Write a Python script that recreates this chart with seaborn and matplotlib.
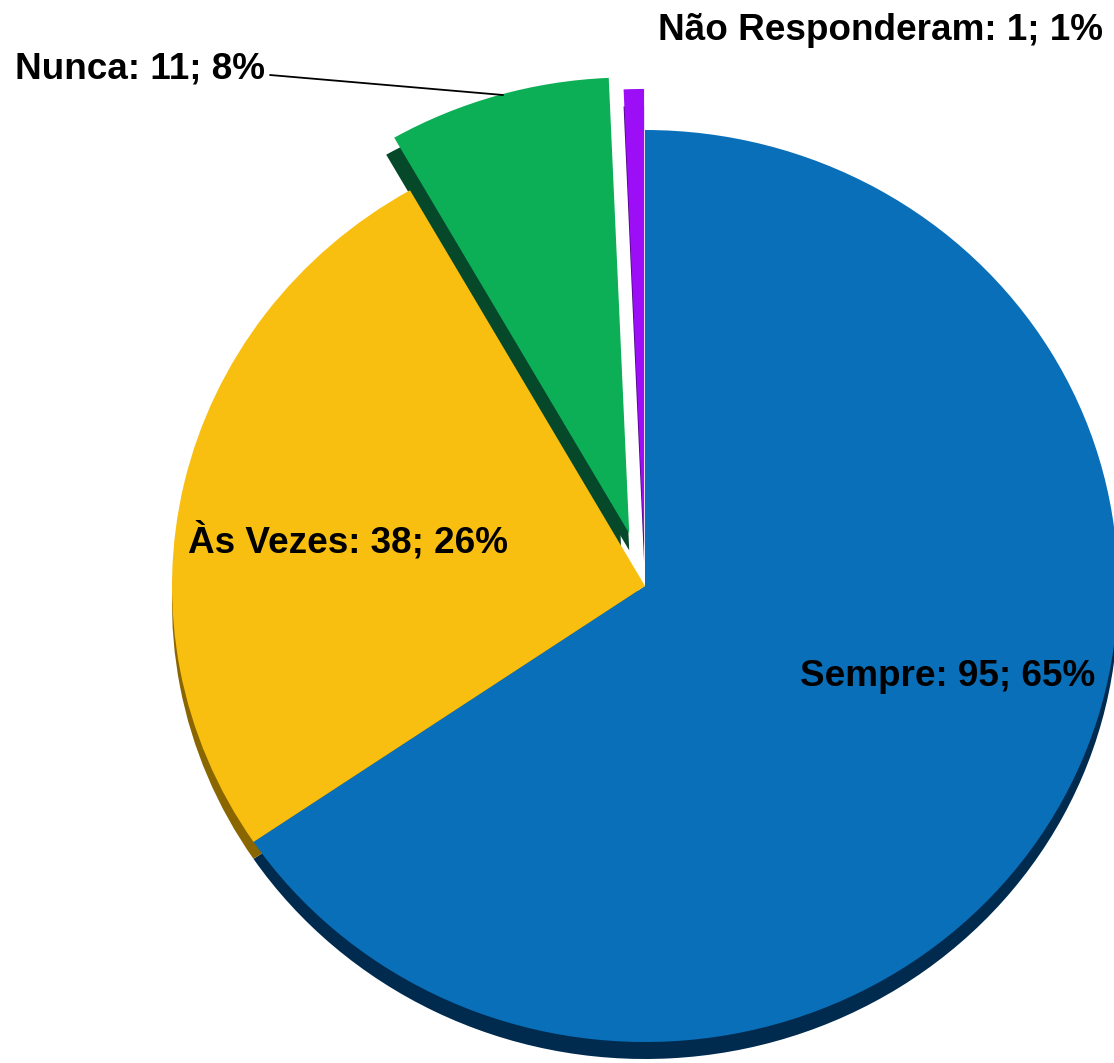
import matplotlib
matplotlib.use("Agg")
import matplotlib.pyplot as plt
import seaborn as sns

# ---- data ----
categories = ["Sempre", "Às Vezes", "Nunca", "Não Responderam"]
counts = [95, 38, 11, 1]
percents = [65, 26, 8, 1]
explode_amt = [0.0, 0.0, 0.12, 0.09]

face_colors = ["#0A6FB9", "#F8BE10", "#0CAF56", "#9B0EF6"]
side_colors = ["#002B4F", "#8A6600", "#05482A", "#4A0580"]
# extra side pass only for the exploded "Nunca" slice (others transparent)
side_colors_exploded = ["none", "none", "#05482A", "none"]

sns.set_theme(style="white")
plt.rcParams["font.family"] = ["Liberation Sans", "DejaVu Sans"]

W, H = 1114, 1063
fig = plt.figure(figsize=(W / 100, H / 100), dpi=100)
ax = fig.add_axes([0, 0, 1, 1])

# pixel geometry of the pie (centre and radii), used to set the data limits
cx, cy, rx, ry = 645, 586, 473, 456
depth_px = 17

# side (depth) of the 3-D pie
ax.pie(counts, colors=side_colors, startangle=90, counterclock=False,
       explode=explode_amt, center=(0, -depth_px / ry),
       wedgeprops=dict(linewidth=0, zorder=1), frame=True)
ax.pie(counts, colors=side_colors_exploded, startangle=90, counterclock=False,
       explode=explode_amt, center=(-8 / rx, -depth_px / ry),
       wedgeprops=dict(linewidth=0, zorder=1), frame=True)
# top face
ax.pie(counts, colors=face_colors, startangle=90, counterclock=False,
       explode=explode_amt, center=(0, 0),
       wedgeprops=dict(linewidth=0, zorder=2), frame=True)

ax.set_aspect("auto")
ax.set_xlim(-cx / rx, (W - cx) / rx)
ax.set_ylim(-(H - cy) / ry, cy / ry)
ax.axis("off")


def px(x, y):
    return (x - cx) / rx, (cy - y) / ry


labels = [f"{c}: {n}; {p}%" for c, n, p in zip(categories, counts, percents)]
fs = 26.6
tkw = dict(fontsize=fs, fontweight="bold", color="black", va="baseline", zorder=5)

ax.text(*px(800, 686), labels[0], ha="left", **tkw)
ax.text(*px(188, 553), labels[1], ha="left", **tkw)
ax.text(*px(265, 78), labels[2], ha="right", **tkw)
ax.text(*px(880, 40), labels[3], ha="center", **tkw)

# leader line for "Nunca"
(x0, y0), (x1, y1) = px(270, 75), px(503, 95)
ax.plot([x0, x1], [y0, y1], color="black", linewidth=1.3, zorder=4)

fig.savefig("out.png", dpi=100, facecolor="white")
